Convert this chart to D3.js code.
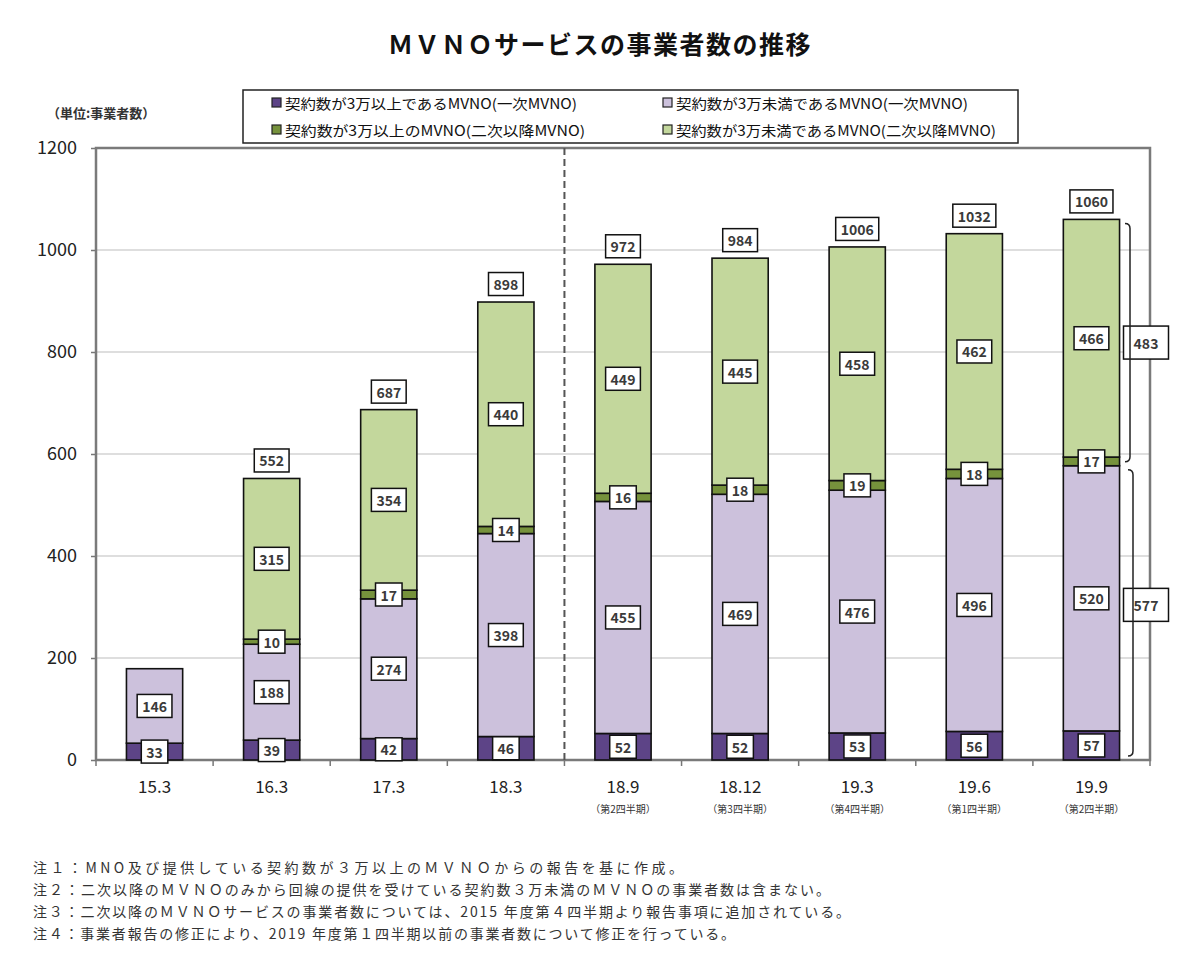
<!DOCTYPE html>
<html>
<head>
<meta charset="utf-8">
<script src="https://cdn.jsdelivr.net/npm/d3@7"></script>
<style>
  body { margin: 0; background: #fff; }
  svg text { font-family: "Noto Sans CJK JP", "Noto Sans", sans-serif; }
</style>
</head>
<body>
<div id="chart"></div>
<script>
// data
const categories = ["15.3", "16.3", "17.3", "18.3", "18.9", "18.12", "19.3", "19.6", "19.9"];
const subLabels = ["", "", "", "", "（第2四半期）", "（第3四半期）", "（第4四半期）", "（第1四半期）", "（第2四半期）"];
const primaryLarge = [33, 39, 42, 46, 52, 52, 53, 56, 57];
const primarySmall = [146, 188, 274, 398, 455, 469, 476, 496, 520];
const secondaryLarge = [0, 10, 17, 14, 16, 18, 19, 18, 17];
const secondarySmall = [0, 315, 354, 440, 449, 445, 458, 462, 466];
const totalLabels = [null, 552, 687, 898, 972, 984, 1006, 1032, 1060];
const yTicks = [0, 200, 400, 600, 800, 1000, 1200];
const seriesNames = [
  "契約数が3万以上であるMVNO(一次MVNO)",
  "契約数が3万未満であるMVNO(一次MVNO)",
  "契約数が3万以上のMVNO(二次以降MVNO)",
  "契約数が3万未満であるMVNO(二次以降MVNO)"
];
const seriesKeys = ["pl", "ps", "sl", "ss"];
const colors = ["#5d4487", "#ccc1dc", "#76923c", "#c3d79c"];
const notes = [
  "注１：MNO及び提供している契約数が３万以上のＭＶＮＯからの報告を基に作成。",
  "注２：二次以降のＭＶＮＯのみから回線の提供を受けている契約数３万未満のＭＶＮＯの事業者数は含まない。",
  "注３：二次以降のＭＶＮＯサービスの事業者数については、2015 年度第４四半期より報告事項に追加されている。",
  "注４：事業者報告の修正により、2019 年度第１四半期以前の事業者数について修正を行っている。"
];
// bracket on the right of the last bar
const bracketRanges = [[577, 1060], [0, 577]];
const bracketLabels = [483, 577];

const svg = d3.select("#chart").append("svg").attr("width", 1200).attr("height", 973);
const margin = {top: 148, left: 96, right: 50, bottom: 213};
const width = 1200 - margin.left - margin.right;
const height = 973 - margin.top - margin.bottom;
const g = svg.append("g").attr("transform", `translate(${margin.left},${margin.top})`);

const rows = categories.map((c, i) => ({
  cat: c, pl: primaryLarge[i], ps: primarySmall[i], sl: secondaryLarge[i], ss: secondarySmall[i]
}));
const stacked = d3.stack().keys(seriesKeys)(rows);

const x = d3.scaleBand().domain(categories).range([0, width]).paddingInner(0.52).paddingOuter(0.26);
const step = x.step();
const y = d3.scaleLinear().domain([0, 1200]).range([height, 0]);

// title
svg.append("text")
  .attr("x", 600).attr("y", 54)
  .attr("text-anchor", "middle")
  .attr("font-size", 25).attr("font-weight", "bold")
  .attr("letter-spacing", 1.5)
  .attr("fill", "#111")
  .text("ＭＶＮＯサービスの事業者数の推移");

// unit
svg.append("text")
  .attr("x", 47).attr("y", 118)
  .attr("font-size", 13).attr("font-weight", "bold")
  .attr("fill", "#333")
  .text("（単位:事業者数）");

// gridlines
g.selectAll(".grid").data(yTicks.filter(d => d > 0 && d < 1200)).enter()
  .append("line")
  .attr("x1", 0).attr("x2", width)
  .attr("y1", d => y(d)).attr("y2", d => y(d))
  .attr("stroke", "#bdbdbd").attr("stroke-width", 1.2);

// y axis
const yAxis = g.append("g")
  .call(d3.axisLeft(y).tickValues(yTicks).tickFormat(d3.format("d")).tickSize(5).tickPadding(14).tickSizeOuter(0));
yAxis.select(".domain").remove();
yAxis.selectAll(".tick line").attr("stroke", "#777").attr("stroke-width", 1.5);
yAxis.selectAll(".tick text").attr("font-size", 18).attr("fill", "#222")
  .attr("font-family", "'Liberation Sans', sans-serif");

// x axis, ticks at band boundaries
const xAxis = g.append("g").attr("transform", `translate(0,${height})`)
  .call(d3.axisBottom(x).tickSize(0).tickPadding(21));
xAxis.select(".domain").remove();
xAxis.selectAll(".tick text").attr("font-size", 17).attr("fill", "#222")
  .attr("font-family", "'Liberation Sans', sans-serif");
xAxis.selectAll(".tick").append("text")
  .attr("y", 53).attr("fill", "#333").attr("font-size", 10)
  .attr("text-anchor", "middle")
  .text((d, i) => subLabels[i]);
g.selectAll(".xtick").data(d3.range(categories.length + 1)).enter()
  .append("line")
  .attr("x1", i => i * step).attr("x2", i => i * step)
  .attr("y1", height).attr("y2", height + 6)
  .attr("stroke", "#777").attr("stroke-width", 1.5);

// frame
g.append("rect")
  .attr("x", 0).attr("y", 0).attr("width", width).attr("height", height)
  .attr("fill", "none").attr("stroke", "#7a7a7a").attr("stroke-width", 2.5);

// dashed separator
g.append("line")
  .attr("x1", 4 * step).attr("x2", 4 * step)
  .attr("y1", 0).attr("y2", height)
  .attr("stroke", "#555").attr("stroke-width", 2)
  .attr("stroke-dasharray", "7,4");

// bars
const layer = g.selectAll(".layer").data(stacked).enter()
  .append("g").attr("fill", (d, i) => colors[i]);
layer.selectAll("rect").data(d => d.filter(s => s[1] - s[0] > 0)).enter()
  .append("rect")
  .attr("x", d => x(d.data.cat))
  .attr("width", x.bandwidth())
  .attr("y", d => y(d[1]))
  .attr("height", d => y(d[0]) - y(d[1]))
  .attr("stroke", "#111").attr("stroke-width", 1.6);

// boxed label helper
function boxLabel(parent, cx, cy, text, w, h) {
  const gg = parent.append("g");
  const rect = gg.append("rect").attr("fill", "#fff").attr("stroke", "#111").attr("stroke-width", 1.5);
  const t = gg.append("text")
    .attr("x", cx).attr("y", cy)
    .attr("text-anchor", "middle").attr("dominant-baseline", "central")
    .attr("font-size", 14).attr("font-weight", "bold")
    .attr("font-family", "'Open Sans', 'Noto Sans', sans-serif")
    .attr("fill", "#3a3a3a")
    .text(text);
  w = w || t.node().getComputedTextLength() + 10;
  h = h || 23;
  rect.attr("x", cx - w / 2).attr("y", cy - h / 2).attr("width", w).attr("height", h);
  return gg;
}

const labelLayer = g.append("g");
stacked.forEach(series => {
  series.forEach(s => {
    const v = s[1] - s[0];
    if (v <= 0) return;
    boxLabel(labelLayer, x(s.data.cat) + x.bandwidth() / 2, (y(s[0]) + y(s[1])) / 2, v);
  });
});

// totals above bars
totalLabels.forEach((t, i) => {
  if (t == null) return;
  const top = stacked[stacked.length - 1][i][1];
  boxLabel(labelLayer, x(categories[i]) + x.bandwidth() / 2, y(top) - 18, t);
});

// right brackets
const bx = [width - 20, width - 17];
bracketRanges.forEach((r, i) => {
  const y0 = y(r[1]) + 4, y1 = y(r[0]) - 4;
  const xx = bx[i];
  g.append("path")
    .attr("d", `M${xx - 5},${y0} Q${xx},${y0} ${xx},${y0 + 5} L${xx},${y1 - 5} Q${xx},${y1} ${xx - 5},${y1}`)
    .attr("fill", "none").attr("stroke", "#222").attr("stroke-width", 1.5);
  boxLabel(labelLayer, width - 4, (y0 + y1) / 2 - (i === 1 ? 8 : 0), bracketLabels[i], 45, 33);
});

// legend
const legend = svg.append("g");
legend.append("rect")
  .attr("x", 243).attr("y", 90).attr("width", 775).attr("height", 53)
  .attr("fill", "#fff").attr("stroke", "#222").attr("stroke-width", 1.5);
const legendPos = [[272, 103], [663, 103], [272, 130], [663, 130]];
const legendLen = [292, 292, 300, 320];
seriesNames.forEach((name, i) => {
  const [lx, ly] = legendPos[i];
  legend.append("rect")
    .attr("x", lx).attr("y", ly - 5).attr("width", 9).attr("height", 9)
    .attr("fill", colors[i]).attr("stroke", "#222").attr("stroke-width", 1.2);
  legend.append("text")
    .attr("x", lx + 13).attr("y", ly).attr("dominant-baseline", "central")
    .attr("font-size", 14).attr("fill", "#111")
    .attr("textLength", legendLen[i]).attr("lengthAdjust", "spacingAndGlyphs")
    .text(name);
});

// notes
const noteLen = [650, 797, 817, 702];
svg.append("g").selectAll("text").data(notes).enter()
  .append("text")
  .attr("x", 33).attr("y", (d, i) => 873 + i * 22)
  .attr("font-size", 14)
  .attr("textLength", (d, i) => noteLen[i]).attr("lengthAdjust", "spacing")
  .attr("fill", "#333")
  .text(d => d);
</script>
</body>
</html>
